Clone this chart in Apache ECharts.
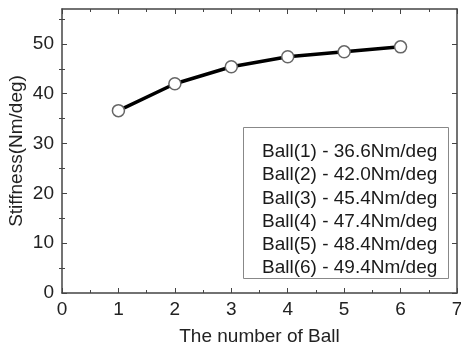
<!DOCTYPE html>
<html>
<head>
<meta charset="utf-8">
<script src="https://cdn.jsdelivr.net/npm/echarts@6/dist/echarts.min.js"></script>
<style>html,body{margin:0;padding:0;background:#fff}#c{width:461px;height:351px}</style>
</head>
<body>
<div id="c"></div>
<script>
var balls = [1, 2, 3, 4, 5, 6];
var stiffness = [36.6, 42.0, 45.4, 47.4, 48.4, 49.4];
var xTicks = [0, 1, 2, 3, 4, 5, 6, 7];
var yTicks = [0, 10, 20, 30, 40, 50];
var legendLines = balls.map(function (b, i) { return 'Ball(' + b + ') - ' + stiffness[i].toFixed(1) + 'Nm/deg'; });

var FONT = '"Liberation Sans", Arial, sans-serif';
var axisCol = '#444';
var chart = echarts.init(document.getElementById('c'), null, {renderer: 'canvas'});

function xAx(pos, show) {
  return {
    type: 'value', position: pos, min: 0, max: 7, interval: 1,
    axisLine: {show: true, onZero: false, lineStyle: {color: axisCol, width: 1.5}},
    axisTick: {show: true, inside: true, length: 5, lineStyle: {color: axisCol}},
    minorTick: {show: true, splitNumber: 2, length: 3, lineStyle: {color: axisCol}},
    splitLine: {show: false},
    axisLabel: {show: show, color: '#222', fontSize: 19, fontFamily: FONT, margin: 7},
    name: show ? 'The number of Ball' : '', nameLocation: 'middle', nameGap: 34, nameMoveOverlap: false,
    nameTextStyle: {color: '#222', fontSize: 19, fontFamily: FONT}
  };
}
function yAx(pos, show) {
  return {
    type: 'value', position: pos, min: 0, max: 57,
    axisLine: {show: true, onZero: false, lineStyle: {color: axisCol, width: 1.5}},
    axisTick: {show: true, inside: true, length: 5, customValues: yTicks, lineStyle: {color: axisCol}},
    minorTick: {show: false},
    splitLine: {show: false},
    axisLabel: {show: show, customValues: yTicks, color: '#222', fontSize: 19, fontFamily: FONT, margin: 8},
    name: show ? 'Stiffness(Nm/deg)' : '', nameLocation: 'middle', nameGap: 36, nameMoveOverlap: false,
    nameTextStyle: {color: '#222', fontSize: 19, fontFamily: FONT}
  };
}
var yMinor = [5, 15, 25, 35, 45, 55];

var lineTop = 152, lineStep = 23.2;
var graphics = [{
  type: 'rect', shape: {x: 243.5, y: 127.5, width: 205, height: 151},
  style: {fill: '#fff', stroke: '#888', lineWidth: 1}, z: 10
}];
legendLines.forEach(function (t, i) {
  graphics.push({
    type: 'text', x: 262, y: lineTop + i * lineStep, z: 11,
    style: {text: t, fill: '#1a1a1a', font: '19px ' + FONT, textAlign: 'left', textVerticalAlign: 'middle'}
  });
});

chart.setOption({
  animation: false,
  grid: {left: 62, right: 4, top: 9, bottom: 58, containLabel: false, outerBoundsMode: 'none'},
  xAxis: [xAx('bottom', true), xAx('top', false)],
  yAxis: [yAx('left', true), yAx('right', false),
    {type: 'value', position: 'left', min: 0, max: 57, axisLine: {show: false}, axisLabel: {show: false}, splitLine: {show: false},
     axisTick: {show: true, inside: true, length: 3, customValues: yMinor, lineStyle: {color: axisCol}}},
    {type: 'value', position: 'right', min: 0, max: 57, axisLine: {show: false}, axisLabel: {show: false}, splitLine: {show: false},
     axisTick: {show: true, inside: true, length: 3, customValues: yMinor, lineStyle: {color: axisCol}}}
  ],
  series: [{
    type: 'line', xAxisIndex: 0, yAxisIndex: 0,
    data: balls.map(function (b, i) { return [b, stiffness[i]]; }),
    lineStyle: {color: '#000', width: 3.5},
    symbol: 'circle', symbolSize: 12,
    itemStyle: {color: '#fff', borderColor: '#666', borderWidth: 1.5},
    z: 5
  }],
  graphic: graphics
});
</script>
</body>
</html>
